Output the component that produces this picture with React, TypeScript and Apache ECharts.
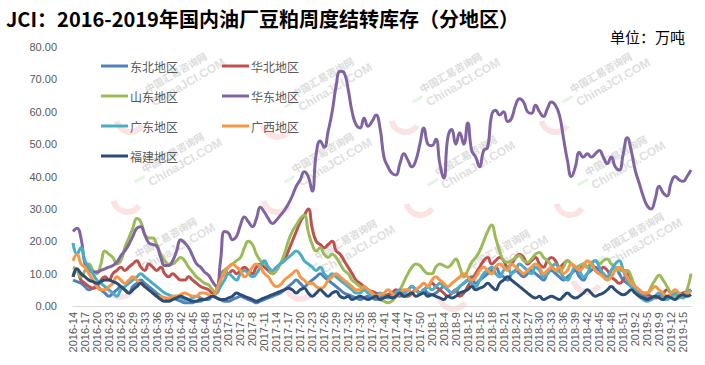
import React, { useEffect, useRef } from "react";
import * as echarts from "echarts";

// week ranges: [year, firstWeek, lastWeek, missingWeeks]
const weekRanges: [number, number, number, number[]][] = [
  [2016, 14, 52, [31]],
  [2017, 1, 52, []],
  [2018, 1, 52, [6, 7]],
  [2019, 1, 17, [6]],
];

const categories: string[] = [];
weekRanges.forEach(([y, a, b, miss]) => {
  for (let w = a; w <= b; w++) if (!miss.includes(w)) categories.push(`${y}-${w}`);
});

const seriesNames = ["东北地区", "华北地区", "山东地区", "华东地区", "广东地区", "广西地区", "福建地区"];
const seriesColors = ["#4F81BD", "#C0504D", "#9BBB59", "#8064A2", "#4BACC6", "#F79646", "#2C4D75"];

const dongbei = [
  8, 7.5, 7, 6, 5, 5.5, 6, 5, 4, 3, 4, 5,
  6, 5, 4, 6, 7, 8, 7, 6, 5, 4, 3, 2.5,
  2, 2.5, 2, 1.5, 1, 1, 1, 1.5, 1.5, 2, 2, 3,
  2.5, 2, 1.5, 1.5, 2, 2.5, 3, 2.5, 2, 1.5, 1, 1.5,
  2, 2.5, 3, 3.5, 4, 5, 6, 7, 8, 7, 6, 7,
  8, 9, 10, 9, 8, 7, 6, 5, 4, 3.5, 3, 2.5,
  2, 2.5, 3, 2.5, 2, 2.5, 3, 3.5, 4, 3.5, 3, 4,
  5, 6, 5, 4, 5, 4, 3.5, 4, 5, 6, 5, 4,
  4.5, 6, 7, 8, 9, 7, 8, 9, 10, 11, 12, 10,
  9, 8, 10, 11, 10, 9, 10, 11, 10, 9, 8, 10,
  11, 10, 9, 8, 9, 10, 11, 9, 8, 10, 11, 12,
  11, 10, 9, 11, 12, 10, 8, 7, 6, 5, 4, 3,
  2.5, 2, 3, 2.5, 2, 2.5, 3, 3.5, 3, 4, 4, 5,
];

const huabei = [
  9, 11, 8, 7, 6, 5.5, 6, 8, 9, 8, 10, 11,
  12, 11, 12, 13, 14, 12, 11, 13, 12, 11, 12, 10,
  9, 10, 9, 8, 8, 9, 8, 7, 6, 5.5, 5, 4,
  5, 9, 11, 10, 11, 10, 11, 12, 11, 10, 12, 13,
  12, 11, 10, 11, 13, 14, 17, 20, 23, 26, 28, 30,
  24, 20, 19, 18, 19, 20, 17, 16, 14, 12, 10, 8,
  7, 6, 5, 4.5, 4, 3.5, 3, 3.5, 4, 5, 4, 3,
  3, 4, 5, 4, 5, 6, 7, 6, 5, 4, 3, 4,
  5, 3, 4, 6, 8, 10, 12, 14, 15, 13, 14, 15,
  14, 12, 13, 15, 16, 15, 13, 14, 15, 13, 12, 14,
  15, 14, 12, 13, 14, 13, 12, 11, 13, 12, 13, 11,
  10, 12, 11, 9, 8, 7, 8, 10, 8, 6, 5, 4,
  3.5, 3, 2.5, 3, 4, 5, 4, 3, 3.5, 4, 4.5, 5,
];

const shandong = [
  12, 11, 9, 11, 13, 11, 10, 13, 17, 16, 15, 13,
  14, 18, 21, 24, 27, 26, 22, 21, 21, 19, 16, 14,
  13, 13, 14, 15, 14, 12, 10.5, 9, 8, 7, 6.5, 5,
  4, 8, 11, 12, 13, 14, 15, 18, 20, 19, 16, 14,
  13, 12, 10, 11, 13, 16, 20, 23, 25, 27, 28, 23,
  19, 17, 18, 16, 15, 16, 15, 13, 11, 10, 8, 7,
  6, 5.5, 5, 4, 3, 2, 1.5, 1, 1.5, 3, 5, 7.5,
  10, 12, 13, 12.5, 11, 10, 10, 12, 13, 12.5, 12, 13,
  14.5, 12, 9, 11, 13.5, 15, 17, 20, 23, 25, 21, 17,
  14, 13.5, 14, 15, 15.5, 14, 13.5, 14.5, 16, 16.5, 15, 14,
  12.5, 11, 10.5, 12, 14, 13, 12, 12.5, 13, 12, 13.5, 14,
  13, 14, 14.5, 13, 12, 11, 11, 11, 9, 6, 5, 4,
  4, 6, 8, 9.5, 8, 6, 4, 3, 2.5, 3, 5, 10,
];

const huadong = [
  23, 24, 21, 13, 11, 10.5, 10.5, 11, 11.5, 12, 12.5, 13.5,
  15.5, 17, 19, 21.5, 24, 24.5, 22, 19.5, 19, 18.5, 15, 12.5,
  12.5, 14, 17, 20.5, 19.5, 18, 15.5, 13, 12, 10.5, 9.5, 7.5,
  6, 14, 23, 22.5, 20.5, 21.5, 25, 27.5, 26, 24.5, 27, 30.5,
  29, 27, 25.5, 26.5, 28, 29.5, 31.5, 34, 37, 39, 41.5, 40,
  35.5, 47, 51, 49, 54, 60, 68, 72.5, 72, 67, 60, 56,
  55, 58, 55.5, 57, 59, 55, 46, 43, 41, 40.5, 44, 47,
  45, 43, 45, 50, 55, 50, 49.5, 51.5, 44, 39.5, 52, 54.5,
  50, 53.5, 50, 56.5, 48, 46, 43, 48, 49, 59, 60.5, 59,
  60, 57, 58, 62, 64, 63, 60, 59.5, 62, 60, 58.5, 61,
  63, 62, 59, 52, 45, 40, 43, 47.5, 46, 47, 46, 47,
  48, 46, 44, 46, 43, 42, 47, 52, 48, 42, 38, 34,
  31, 30, 33, 37, 35, 34, 38, 40, 39, 38.5, 40, 42,
];

const guangdong = [
  19.5, 16, 18, 14, 12, 10, 8, 7, 6, 5, 4, 3,
  5, 6, 7, 8, 9, 10, 9, 8, 7, 6, 5, 4,
  3.5, 3, 3, 2.5, 2, 2, 2.5, 3, 2.5, 2, 2.5, 3,
  4, 6, 8, 10, 9, 8, 10, 11, 10, 9, 10, 12,
  14, 12, 11, 12, 13, 14, 15, 16, 17, 16, 14, 13,
  12, 11, 12, 10, 9, 10, 9, 8, 7, 6, 5, 4,
  4, 5, 4, 3, 3, 4, 3, 2.5, 3, 4, 5, 4,
  5, 6, 5, 4, 5, 6, 5, 6, 7, 6, 5, 4,
  5, 6, 7, 8, 7, 6, 8, 10, 11, 12, 10, 9,
  11, 12, 10, 11, 13, 12, 11, 10, 12, 11, 9, 10,
  12, 13, 11, 9, 8, 10, 12, 11, 9, 10, 13, 14,
  12, 10, 9, 11, 13, 14, 11, 8, 6, 5, 3, 2,
  1.5, 2, 3, 4, 3, 2, 3, 4, 3, 2.5, 4, 5,
];

const guangxi = [
  14, 16, 13, 12, 10, 8, 6, 5, 5, 6, 7, 9,
  8, 7, 8, 9, 8, 7, 6, 5, 4, 3, 3, 2.5,
  2.5, 3, 3, 3.5, 4, 3.5, 3, 3, 4, 4, 3.5, 3,
  5, 8, 10, 12, 13, 12, 11, 9, 10, 12, 13, 12,
  10, 9, 7, 6, 6.5, 8, 9, 10, 11, 9, 8, 7,
  7, 6, 5.5, 6, 8, 9, 10, 9, 8, 7, 6, 5,
  5, 6, 5, 4, 3, 3.5, 4, 5, 4, 3, 4, 5,
  5, 4, 5, 6, 7, 6, 8, 9, 8, 7, 6, 7,
  8, 9, 10, 9, 8, 9, 11, 12, 11, 10, 12, 13,
  12, 11, 13, 12, 11, 10, 11, 12, 13, 12, 10, 11,
  12, 11, 12, 10, 11, 13, 12, 11, 12, 14, 13, 11,
  10, 9, 8, 9, 11, 12, 11, 9, 7, 6, 5, 4,
  4, 5, 6, 5, 4, 3, 4, 5, 4, 3.5, 4, 4.5,
];

const fujian = [
  9, 11.5, 10, 9, 8, 7.5, 7, 7.5, 8, 8, 7.5, 7,
  6, 5, 4, 5, 6, 7, 6, 5, 4, 3, 2, 1.5,
  1.5, 2, 2.5, 3, 2.5, 2, 1.5, 1.5, 2, 2, 2.5, 3,
  2.5, 2, 2, 2.5, 3, 4, 3.5, 3, 2.5, 2, 1.5, 2,
  2.5, 3, 3.5, 4, 4.5, 5, 5.5, 5, 4, 5, 5.5, 4,
  3, 4, 5, 4, 3, 4, 4.5, 3, 2.5, 3, 2, 2.5,
  3, 2.5, 2, 2.5, 3, 2, 2.5, 3, 2.5, 3, 4, 3,
  3.5, 4, 3, 3.5, 4, 3, 3.5, 3, 2.5, 2, 3, 2.5,
  3, 4, 4.5, 5, 6, 5, 5.5, 6, 7, 6, 5, 7,
  8, 9, 8, 7, 6, 5, 4, 3, 2.5, 3, 2, 2.5,
  3, 2.5, 2, 3, 4, 3, 2.5, 3, 4, 5, 4, 3,
  3.5, 4, 5, 6, 5, 4, 3.5, 4, 5, 4, 3, 2.5,
  2, 2.5, 3, 2.5, 2, 3, 2.5, 2, 3, 3.5, 3, 3.5,
];

const seriesData = [dongbei, huabei, shandong, huadong, guangdong, guangxi, fujian];

const titleText = "JCI：2016-2019年国内油厂豆粕周度结转库存（分地区）";
const unitText = "单位：万吨";

const wmSpots = [
  [180, 80], [327, 85], [455, 80], [605, 80],
  [177, 160], [327, 160], [470, 163], [620, 163],
  [170, 245], [350, 247], [503, 257], [637, 240],
];

export default function App() {
  const ref = useRef<HTMLDivElement>(null);
  useEffect(() => {
    if (!ref.current) return;
    const chart = echarts.init(ref.current, undefined, { renderer: "svg" });
    const labelFont = "'Liberation Sans', 'Noto Sans CJK SC', sans-serif";
    const cjkFont = "'Noto Sans CJK SC', 'Liberation Sans', sans-serif";
    const watermarks = wmSpots.map(([x, y]) => ({
      type: "group",
      x,
      y,
      rotation: Math.PI / 6,
      z: -10,
      silent: true,
      children: [
        { type: "arc", x: -62, y: 8, shape: { cx: 0, cy: 0, r: 14, startAngle: Math.PI * 0.35, endAngle: Math.PI * 1.1 }, style: { stroke: "#fbe3e3", lineWidth: 6, fill: "none" } },
        { type: "line", shape: { x1: -48, y1: -2, x2: -36, y2: -2 }, style: { stroke: "#e2f4e2", lineWidth: 3 } },
        { type: "text", x: 0, y: -9, style: { text: "中国汇易咨询网", fontSize: 10, fontWeight: "bold", fill: "#dcdcdc", fontFamily: cjkFont, align: "center", verticalAlign: "middle" } },
        { type: "text", x: 6, y: 6, style: { text: "ChinaJCI.COM", fontSize: 12, fontWeight: "bold", fill: "#e0e0e0", fontFamily: labelFont, align: "center", verticalAlign: "middle" } },
      ],
    }));
    chart.setOption({
      animation: false,
      backgroundColor: "#ffffff",
      textStyle: { fontFamily: cjkFont },
      graphic: [
        ...watermarks,
        { type: "text", left: 6, top: 8, style: { text: titleText, fontSize: 20, fontWeight: "bold", fill: "#000000", fontFamily: cjkFont } },
        { type: "text", right: 20, top: 29, style: { text: unitText, fontSize: 15, fill: "#000000", fontFamily: cjkFont } },
      ],
      legend: [
        {
          data: [seriesNames[0], seriesNames[2], seriesNames[4], seriesNames[6]],
          orient: "vertical", left: 96, top: 55, itemWidth: 27, itemHeight: 3, itemGap: 18, icon: "rect",
          textStyle: { fontSize: 12, color: "#595959", fontFamily: cjkFont, padding: [0, 0, 0, -3] },
        },
        {
          data: [seriesNames[1], seriesNames[3], seriesNames[5]],
          orient: "vertical", left: 217, top: 55, itemWidth: 27, itemHeight: 3, itemGap: 18, icon: "rect",
          textStyle: { fontSize: 12, color: "#595959", fontFamily: cjkFont, padding: [0, 0, 0, -3] },
        },
      ],
      grid: { left: 73, right: 14, top: 47, bottom: 59, containLabel: false },
      xAxis: {
        type: "category",
        data: categories,
        boundaryGap: false,
        axisLine: { lineStyle: { color: "#d9d9d9", width: 1 } },
        axisTick: { show: false },
        axisLabel: { rotate: 90, interval: 2, margin: 6, fontSize: 11, color: "#595959", fontFamily: labelFont },
        splitLine: { show: false },
      },
      yAxis: {
        type: "value",
        min: 0,
        max: 80,
        interval: 10,
        axisLine: { show: false },
        axisTick: { show: false },
        splitLine: { show: false },
        axisLabel: { formatter: (v: number) => v.toFixed(2), margin: 16, fontSize: 11, color: "#595959", fontFamily: labelFont },
      },
      series: seriesNames.map((name, k) => ({
        name,
        type: "line",
        data: seriesData[k],
        smooth: 0.5,
        symbol: "none",
        showSymbol: false,
        color: seriesColors[k],
        lineStyle: { width: 3, color: seriesColors[k] },
      })),
    });
    return () => chart.dispose();
  }, []);
  return <div ref={ref} style={{ position: "fixed", left: 0, top: 0, width: 705, height: 365 }} />;
}
